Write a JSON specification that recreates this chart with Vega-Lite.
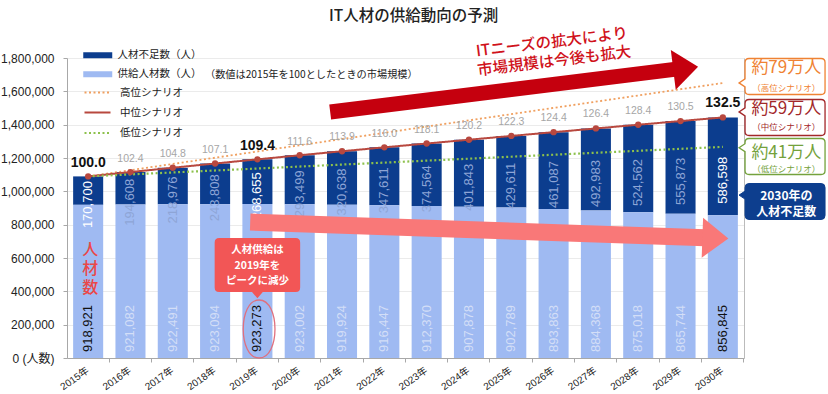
{
  "$schema": "https://vega.github.io/schema/vega-lite/v6.json",
  "width": 677,
  "height": 300,
  "autosize": {"type": "none"},
  "padding": {"left": 67, "top": 58, "right": 84, "bottom": 36},
  "background": "#ffffff",
  "title": {"text": "IT人材の供給動向の予測", "font": "Noto Sans CJK JP, sans-serif", "fontSize": 15.5, "fontWeight": 500, "color": "#222222", "anchor": "middle", "dx": 8, "offset": 1},
  "config": {"view": {"stroke": null}, "font": "Liberation Sans, Noto Sans CJK JP, sans-serif", "axis": {"labelOverlap": false}, "axisY": {"labelOverlap": false}},
  "datasets": {
    "bars": [
      {"year": "2015年", "series": "人材不足数（人）", "value": 170700}, {"year": "2015年", "series": "供給人材数（人）", "value": 918921},
      {"year": "2016年", "series": "人材不足数（人）", "value": 194608}, {"year": "2016年", "series": "供給人材数（人）", "value": 921082},
      {"year": "2017年", "series": "人材不足数（人）", "value": 218976}, {"year": "2017年", "series": "供給人材数（人）", "value": 922491},
      {"year": "2018年", "series": "人材不足数（人）", "value": 243808}, {"year": "2018年", "series": "供給人材数（人）", "value": 923094},
      {"year": "2019年", "series": "人材不足数（人）", "value": 268655}, {"year": "2019年", "series": "供給人材数（人）", "value": 923273},
      {"year": "2020年", "series": "人材不足数（人）", "value": 293499}, {"year": "2020年", "series": "供給人材数（人）", "value": 923002},
      {"year": "2021年", "series": "人材不足数（人）", "value": 320638}, {"year": "2021年", "series": "供給人材数（人）", "value": 919924},
      {"year": "2022年", "series": "人材不足数（人）", "value": 347611}, {"year": "2022年", "series": "供給人材数（人）", "value": 916447},
      {"year": "2023年", "series": "人材不足数（人）", "value": 374564}, {"year": "2023年", "series": "供給人材数（人）", "value": 912370},
      {"year": "2024年", "series": "人材不足数（人）", "value": 401843}, {"year": "2024年", "series": "供給人材数（人）", "value": 907878},
      {"year": "2025年", "series": "人材不足数（人）", "value": 429611}, {"year": "2025年", "series": "供給人材数（人）", "value": 902789},
      {"year": "2026年", "series": "人材不足数（人）", "value": 461087}, {"year": "2026年", "series": "供給人材数（人）", "value": 893863},
      {"year": "2027年", "series": "人材不足数（人）", "value": 492983}, {"year": "2027年", "series": "供給人材数（人）", "value": 884368},
      {"year": "2028年", "series": "人材不足数（人）", "value": 524562}, {"year": "2028年", "series": "供給人材数（人）", "value": 875018},
      {"year": "2029年", "series": "人材不足数（人）", "value": 555873}, {"year": "2029年", "series": "供給人材数（人）", "value": 865744},
      {"year": "2030年", "series": "人材不足数（人）", "value": 586598}, {"year": "2030年", "series": "供給人材数（人）", "value": 856845}
    ],
    "years": [
      {"year": "2015年", "index": 100.0}, {"year": "2016年", "index": 102.4}, {"year": "2017年", "index": 104.8}, {"year": "2018年", "index": 107.1},
      {"year": "2019年", "index": 109.4}, {"year": "2020年", "index": 111.6}, {"year": "2021年", "index": 113.9}, {"year": "2022年", "index": 116.0},
      {"year": "2023年", "index": 118.1}, {"year": "2024年", "index": 120.2}, {"year": "2025年", "index": 122.3}, {"year": "2026年", "index": 124.4},
      {"year": "2027年", "index": 126.4}, {"year": "2028年", "index": 128.4}, {"year": "2029年", "index": 130.5}, {"year": "2030年", "index": 132.5}
    ],
    "scenarios": [
      {"year": "2015年", "scenario": "高位シナリオ", "value": 1089621}, {"year": "2030年", "scenario": "高位シナリオ", "value": 1650000},
      {"year": "2015年", "scenario": "中位シナリオ", "value": 1089621}, {"year": "2016年", "scenario": "中位シナリオ", "value": 1115690},
      {"year": "2017年", "scenario": "中位シナリオ", "value": 1141467}, {"year": "2018年", "scenario": "中位シナリオ", "value": 1166902},
      {"year": "2019年", "scenario": "中位シナリオ", "value": 1191928}, {"year": "2020年", "scenario": "中位シナリオ", "value": 1216501},
      {"year": "2021年", "scenario": "中位シナリオ", "value": 1240562}, {"year": "2022年", "scenario": "中位シナリオ", "value": 1264058},
      {"year": "2023年", "scenario": "中位シナリオ", "value": 1286934}, {"year": "2024年", "scenario": "中位シナリオ", "value": 1309721},
      {"year": "2025年", "scenario": "中位シナリオ", "value": 1332400}, {"year": "2026年", "scenario": "中位シナリオ", "value": 1354950},
      {"year": "2027年", "scenario": "中位シナリオ", "value": 1377351}, {"year": "2028年", "scenario": "中位シナリオ", "value": 1399580},
      {"year": "2029年", "scenario": "中位シナリオ", "value": 1421617}, {"year": "2030年", "scenario": "中位シナリオ", "value": 1443443},
      {"year": "2015年", "scenario": "低位シナリオ", "value": 1089621}, {"year": "2030年", "scenario": "低位シナリオ", "value": 1266845}
    ]
  },
  "resolve": {"scale": {"x": "independent", "y": "independent"}},
  "layer": [
    {
      "layer": [
        {
          "data": {"name": "bars"},
          "mark": {"type": "bar"},
          "encoding": {
            "x": {"field": "year", "type": "nominal", "title": null,
              "scale": {"domain": ["2015年","2016年","2017年","2018年","2019年","2020年","2021年","2022年","2023年","2024年","2025年","2026年","2027年","2028年","2029年","2030年"], "paddingInner": 0.29, "paddingOuter": 0.145},
              "axis": {"title": null, "labelAngle": -35, "labelAlign": "right", "labelBaseline": "top", "labelFontSize": 10, "labelColor": "#222222", "domainColor": "#a8a8a8", "tickColor": "#a8a8a8", "tickSize": 4, "bandPosition": 1.2, "labelOffset": -3, "labelPadding": 3, "grid": false}},
            "y": {"field": "value", "type": "quantitative", "stack": "zero", "title": null,
              "scale": {"domain": [0, 1800000], "nice": false},
              "axis": {"title": null, "tickCount": 9, "labelExpr": "datum.value === 0 ? '0 (人数)' : format(datum.value, ',')", "labelOverlap": false, "labelFontSize": 12, "labelColor": "#222222", "grid": true, "gridColor": "#ebebeb", "domainColor": "#a8a8a8", "tickColor": "#a8a8a8", "tickSize": 4, "labelPadding": 9}},
            "color": {"field": "series", "type": "nominal",
              "scale": {"domain": ["人材不足数（人）", "供給人材数（人）"], "range": ["#0c3d8e", "#9fbaf2"]},
              "legend": {"orient": "none", "legendX": 25.5, "legendY": -8, "title": null, "symbolType": "M-2.9,-0.6H2.9V0.6H-2.9Z", "symbolSize": 100, "symbolStrokeWidth": 0, "labelFont": "Noto Sans CJK JP, sans-serif", "labelFontSize": 10.5, "labelColor": "#222222", "rowPadding": 8, "labelOffset": 14.5, "padding": 0}},
            "order": {"field": "series", "sort": "descending"}
          }
        },
        {
          "data": {"name": "bars"},
          "mark": {"type": "text", "angle": 270, "align": "center", "baseline": "middle", "dx": -14, "fontSize": 13},
          "encoding": {
            "x": {"field": "year", "type": "nominal"},
            "y": {"field": "value", "type": "quantitative", "stack": "zero", "bandPosition": 0.5},
            "detail": {"field": "series"},
            "order": {"field": "series", "sort": "descending"},
            "text": {"field": "value", "type": "quantitative", "format": ",", "condition": {"test": "datum.series === '供給人材数（人）'", "value": ""}},
            "color": {"condition": {"test": "indexof(['2015年','2019年','2030年'], datum.year) >= 0", "value": "#ffffff"}, "value": "#8ea5d6"}
          }
        },
        {
          "data": {"name": "bars"},
          "transform": [{"filter": "datum.series === '供給人材数（人）'"}],
          "mark": {"type": "text", "angle": 270, "align": "left", "baseline": "middle", "dx": 6, "fontSize": 13},
          "encoding": {
            "x": {"field": "year", "type": "nominal"},
            "y": {"datum": 0, "type": "quantitative"},
            "text": {"field": "value", "type": "quantitative", "format": ","},
            "color": {"condition": {"test": "indexof(['2015年','2019年','2030年'], datum.year) >= 0", "value": "#111111"}, "value": "#d3def7"}
          }
        },
        {
          "data": {"name": "scenarios"},
          "mark": {"type": "line"},
          "encoding": {
            "x": {"field": "year", "type": "nominal"},
            "y": {"field": "value", "type": "quantitative"},
            "stroke": {"field": "scenario", "type": "nominal",
              "scale": {"domain": ["高位シナリオ", "中位シナリオ", "低位シナリオ"], "range": ["#f0a060", "#b8483f", "#8dc14c"]},
              "legend": {"orient": "none", "legendX": 24, "legendY": 28.5, "title": null, "symbolType": "M-2.6,0H2.6", "symbolSize": 100, "symbolStrokeWidth": 2, "labelFont": "Noto Sans CJK JP, sans-serif", "labelFontSize": 10.5, "labelColor": "#222222", "rowPadding": 8, "labelOffset": 16, "padding": 0}},
            "strokeDash": {"field": "scenario", "type": "nominal",
              "scale": {"domain": ["高位シナリオ", "中位シナリオ", "低位シナリオ"], "range": [[2, 2.5], [1, 0], [2, 2.5]]},
              "legend": {"orient": "none", "legendX": 24, "legendY": 28.5, "title": null, "symbolType": "M-2.6,0H2.6", "symbolSize": 100, "symbolStrokeWidth": 2, "labelFont": "Noto Sans CJK JP, sans-serif", "labelFontSize": 10.5, "labelColor": "#222222", "rowPadding": 8, "labelOffset": 16, "padding": 0}},
            "strokeWidth": {"field": "scenario", "type": "nominal", "scale": {"domain": ["高位シナリオ", "中位シナリオ", "低位シナリオ"], "range": [1.8, 2.2, 1.8]}, "legend": null}
          }
        },
        {
          "data": {"name": "scenarios"},
          "transform": [{"filter": "datum.scenario === '中位シナリオ'"}],
          "mark": {"type": "point", "filled": true, "color": "#b8483f", "size": 40, "opacity": 1},
          "encoding": {
            "x": {"field": "year", "type": "nominal"},
            "y": {"field": "value", "type": "quantitative"}
          }
        }
      ]
    },
    {
      "data": {"name": "years"},
      "encoding": {
        "x": {"field": "year", "type": "nominal",
          "scale": {"type": "band", "domain": ["2015年","2016年","2017年","2018年","2019年","2020年","2021年","2022年","2023年","2024年","2025年","2026年","2027年","2028年","2029年","2030年"], "paddingInner": 0.29, "paddingOuter": 0.145},
          "axis": null},
        "y": {"field": "index", "type": "quantitative",
          "scale": {"domain": [-5.6, 156.9], "nice": false, "zero": false},
          "axis": {"orient": "right", "labels": false, "ticks": false, "grid": false, "domainColor": "#bbbbbb", "title": null}},
        "text": {"field": "index", "type": "quantitative", "format": ".1f"}
      },
      "layer": [
        {
          "transform": [{"filter": "indexof(['2015年','2019年','2030年'], datum.year) < 0"}],
          "mark": {"type": "text", "fontSize": 10.5, "color": "#a6a6a6", "baseline": "middle", "align": "center"}
        },
        {
          "transform": [{"filter": "indexof(['2015年','2019年','2030年'], datum.year) >= 0"}],
          "mark": {"type": "text", "fontSize": 14, "fontWeight": "bold", "color": "#111111", "baseline": "middle", "align": "center"}
        }
      ]
    },
    {
      "encoding": {
        "x": {"field": "x", "type": "quantitative", "scale": {"domain": [2014.5, 2030.5], "nice": false, "zero": false}, "axis": null},
        "y": {"field": "y", "type": "quantitative", "scale": {"domain": [0, 1800000], "nice": false, "zero": false}, "axis": null}
      },
      "layer": [
        {
          "data": {"values": [{"x": 2018.83, "y": 816000}, {"x": 2029.58, "y": 721200}]},
          "mark": {"type": "line", "color": "#f97878", "strokeWidth": 17, "strokeCap": "butt"},
          "encoding": {}
        },
        {
          "data": {"values": [{"x": 2029.8, "y": 719400}]},
          "mark": {"type": "point", "shape": "M-0.6,-1L0.7,0L-0.6,1Z", "size": 1600, "filled": true, "color": "#f97878", "opacity": 1, "strokeWidth": 0, "angle": 2}
        },
        {
          "data": {"values": [{"x": 2020.72, "y": 1476000}, {"x": 2028.9, "y": 1733000}]},
          "mark": {"type": "line", "color": "#c5000e", "strokeWidth": 15, "strokeCap": "butt"},
          "encoding": {}
        },
        {
          "data": {"values": [{"x": 2029.11, "y": 1737600}]},
          "mark": {"type": "point", "shape": "M-0.6,-1L0.65,0L-0.6,1Z", "size": 1600, "filled": true, "color": "#c5000e", "opacity": 1, "strokeWidth": 0, "angle": -7}
        },
        {
          "data": {"values": [{"x": 2025.96, "y": 1895000, "label": "ITニーズの拡大により\n市場規模は今後も拡大"}]},
          "mark": {"type": "text", "font": "Noto Sans CJK JP, sans-serif", "fontSize": 15.5, "fontWeight": 500, "color": "#d0121b", "angle": -7, "align": "center", "baseline": "middle", "lineBreak": "\n", "lineHeight": 19},
          "encoding": {"text": {"field": "label"}}
        },
        {
          "data": {"values": [{"x": 2017.76, "y": 1698000, "label": "（数値は2015年を100としたときの市場規模）"}]},
          "mark": {"type": "text", "font": "Noto Sans CJK JP, sans-serif", "fontSize": 10.2, "color": "#222222", "align": "left", "baseline": "middle"},
          "encoding": {"text": {"field": "label"}}
        },
        {
          "data": {"values": [{"x": 2019.0, "y": 558000}]},
          "mark": {"type": "point", "shape": "M-0.85,-0.6H0.85Q0.95,-0.6 0.95,-0.5V0.5Q0.95,0.6 0.85,0.6H0.12L0,0.74L-0.12,0.6H-0.85Q-0.95,0.6 -0.95,0.5V-0.5Q-0.95,-0.6 -0.85,-0.6Z", "size": 8100, "filled": true, "color": "#f25656", "opacity": 1, "strokeWidth": 0}
        },
        {
          "data": {"values": [{"x": 2019.0, "y": 648000, "label": "人材供給は\n2019年を\nピークに減少"}]},
          "mark": {"type": "text", "font": "Noto Sans CJK JP, sans-serif", "fontSize": 10.5, "fontWeight": "bold", "color": "#ffffff", "align": "center", "baseline": "middle", "lineBreak": "\n", "lineHeight": 15.5},
          "encoding": {"text": {"field": "label"}}
        },
        {
          "data": {"values": [{"x": 2019.04, "y": 174000}]},
          "mark": {"type": "point", "shape": "M0,-1C0.73,-1 0.73,1 0,1C-0.73,1 -0.73,-1 0,-1Z", "size": 3364, "filled": false, "color": "#e0707e", "opacity": 1, "strokeWidth": 1.3}
        },
        {
          "data": {"values": [{"x": 2015.05, "y": 648000, "label": "人\n材\n数"}]},
          "mark": {"type": "text", "font": "Noto Sans CJK JP, sans-serif", "fontSize": 16, "fontWeight": 500, "color": "#ea4848", "align": "center", "baseline": "middle", "lineBreak": "\n", "lineHeight": 19},
          "encoding": {"text": {"field": "label"}}
        },
        {
          "data": {"values": [{"x": 2031.47, "y": 1689000}]},
          "mark": {"type": "point", "shape": "M-0.9,-0.45H0.9Q1,-0.45 1,-0.35V0.35Q1,0.45 0.9,0.45H-0.9Q-1,0.45 -1,0.35V0.26L-1.15,0.16L-1,0.06V-0.35Q-1,-0.45 -0.9,-0.45Z", "size": 6400, "filled": true, "fill": "#ffffff", "stroke": "#ef8233", "strokeWidth": 1.3, "opacity": 1}
        },
        {
          "data": {"values": [{"x": 2031.47, "y": 1443000}]},
          "mark": {"type": "point", "shape": "M-0.9,-0.45H0.9Q1,-0.45 1,-0.35V0.35Q1,0.45 0.9,0.45H-0.9Q-1,0.45 -1,0.35V-0.04L-1.15,-0.14L-1,-0.24V-0.35Q-1,-0.45 -0.9,-0.45Z", "size": 6400, "filled": true, "fill": "#ffffff", "stroke": "#a3282a", "strokeWidth": 1.3, "opacity": 1}
        },
        {
          "data": {"values": [{"x": 2031.47, "y": 1209000}]},
          "mark": {"type": "point", "shape": "M-0.9,-0.45H0.9Q1,-0.45 1,-0.35V0.35Q1,0.45 0.9,0.45H-0.9Q-1,0.45 -1,0.35V-0.12L-1.15,-0.22L-1,-0.32V-0.35Q-1,-0.45 -0.9,-0.45Z", "size": 6400, "filled": true, "fill": "#ffffff", "stroke": "#74a23c", "strokeWidth": 1.3, "opacity": 1}
        },
        {
          "data": {"values": [{"x": 2031.47, "y": 939000}]},
          "mark": {"type": "point", "shape": "M-0.9,-0.45H0.9Q1,-0.45 1,-0.35V0.35Q1,0.45 0.9,0.45H-0.9Q-1,0.45 -1,0.35V-0.06L-1.15,-0.16L-1,-0.26V-0.35Q-1,-0.45 -0.9,-0.45Z", "size": 6400, "filled": true, "fill": "#0d3e8e", "stroke": "#0d3e8e", "strokeWidth": 1, "opacity": 1}
        },
        {
          "data": {"values": [{"x": 2031.5, "y": 1738000, "label": "約79万人"}]},
          "mark": {"type": "text", "font": "Noto Sans CJK JP, sans-serif", "fontSize": 17, "color": "#ef8233", "align": "center", "baseline": "middle"},
          "encoding": {"text": {"field": "label"}}
        },
        {
          "data": {"values": [{"x": 2031.5, "y": 1623000, "label": "（高位シナリオ）"}]},
          "mark": {"type": "text", "font": "Noto Sans CJK JP, sans-serif", "fontSize": 8.5, "color": "#ef8233", "align": "center", "baseline": "middle"},
          "encoding": {"text": {"field": "label"}}
        },
        {
          "data": {"values": [{"x": 2031.5, "y": 1494000, "label": "約59万人"}]},
          "mark": {"type": "text", "font": "Noto Sans CJK JP, sans-serif", "fontSize": 17, "color": "#a3282a", "align": "center", "baseline": "middle"},
          "encoding": {"text": {"field": "label"}}
        },
        {
          "data": {"values": [{"x": 2031.5, "y": 1386000, "label": "（中位シナリオ）"}]},
          "mark": {"type": "text", "font": "Noto Sans CJK JP, sans-serif", "fontSize": 8.5, "color": "#a3282a", "align": "center", "baseline": "middle"},
          "encoding": {"text": {"field": "label"}}
        },
        {
          "data": {"values": [{"x": 2031.5, "y": 1230000, "label": "約41万人"}]},
          "mark": {"type": "text", "font": "Noto Sans CJK JP, sans-serif", "fontSize": 17, "color": "#74a23c", "align": "center", "baseline": "middle"},
          "encoding": {"text": {"field": "label"}}
        },
        {
          "data": {"values": [{"x": 2031.5, "y": 1137000, "label": "（低位シナリオ）"}]},
          "mark": {"type": "text", "font": "Noto Sans CJK JP, sans-serif", "fontSize": 8.5, "color": "#74a23c", "align": "center", "baseline": "middle"},
          "encoding": {"text": {"field": "label"}}
        },
        {
          "data": {"values": [{"x": 2031.5, "y": 975000, "label": "2030年の\n人材不足数"}]},
          "mark": {"type": "text", "font": "Noto Sans CJK JP, sans-serif", "fontSize": 12, "fontWeight": "bold", "color": "#ffffff", "align": "center", "baseline": "middle", "lineBreak": "\n", "lineHeight": 16},
          "encoding": {"text": {"field": "label"}}
        }
      ]
    }
  ]
}
